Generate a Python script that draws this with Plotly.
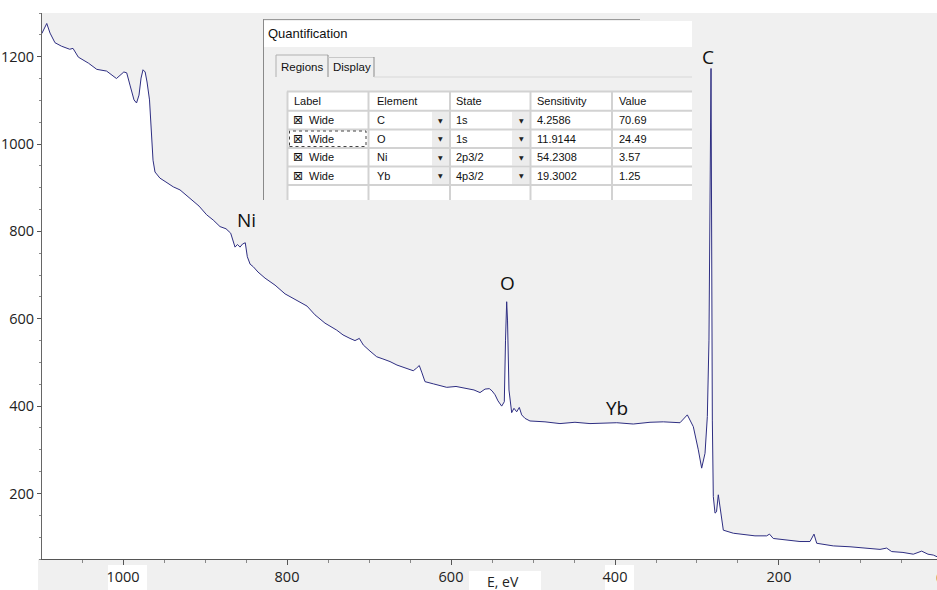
import plotly.graph_objects as go

# ---------------- data ----------------
energy = [1099, 1093, 1089, 1083, 1075, 1065, 1061, 1054.5, 1042, 1032, 1020, 1008, 999, 995.5,
          991.5, 986.6, 983.5, 980.5, 978, 975.6, 973, 970.7, 967.7, 965.2, 963.4, 961, 955, 947.6,
          938.7, 930.5, 916.2, 907.3, 898, 890, 881.7, 874.4, 868.7, 865.9, 863.4, 860.4, 857.3,
          854.3, 850.9, 848.4, 845, 841.1, 835.4, 826.8, 814.6, 802.4, 784.1, 775.6, 765.9, 753.7,
          739.4, 731.7, 723.2, 717.1, 711.8, 707, 698.8, 690.6, 683, 674.4, 665.9, 658.2, 646, 642,
          638.7, 635.4, 631.7, 621.6, 605.2, 593.9, 580.9, 572, 564.6, 558.5, 553.3, 550, 546.3,
          542.7, 538.2, 535, 533.5, 532.1, 531.1, 529.3, 526, 523.2, 519.9, 516.7, 513.8, 509.8,
          503.7, 485.4, 467.1, 448.8, 430.5, 418.3, 397.9, 377.7, 357.3, 341.1, 320.7, 311.8, 304.5,
          298.4, 294.3, 290.2, 287.4, 285.4, 284.1, 282.9, 281.3, 280.1, 278, 276.2, 274, 271.1,
          267.9, 255.7, 239.4, 229.3, 215, 211.6, 207, 190.6, 174.4, 162.2, 157.3, 154, 133.8, 113.4,
          93, 76.8, 68.7, 62.6, 48.8, 36.2, 26, 18.3, 11.8, 7]
counts = [1253, 1276, 1254, 1232, 1224, 1217, 1219, 1199, 1185, 1171, 1167, 1150, 1165, 1163,
          1135, 1101, 1094, 1112, 1151, 1170, 1165, 1142, 1101, 1032, 963, 936, 922, 913,
          902, 895, 872, 858, 838, 826, 811, 806, 796, 780, 764, 770, 764,
          771, 774, 742, 725, 719, 707, 693, 677, 657, 639, 629, 609, 590,
          574, 563, 555, 550, 555, 540, 526, 513, 508, 502, 494, 489, 481, 487,
          493, 476, 456, 451, 443, 445, 441, 437, 431, 439, 440, 435, 426,
          412, 400, 410, 551, 639, 597, 437, 385, 395, 387, 397, 380, 372,
          366, 364, 360, 363, 360, 361, 362, 359, 363, 364, 362, 380, 353,
          300, 258, 292, 376, 551, 872, 1173, 368, 193, 155, 158, 197, 155,
          116, 109, 105, 103, 103, 107, 97, 94, 90, 90, 107, 86, 80, 78,
          75, 72, 75, 67, 65, 61, 68, 61, 59, 55]

x_ticks = [1000, 800, 600, 400, 200]
y_ticks = [200, 400, 600, 800, 1000, 1200]

peak_names = ["Ni", "O", "Yb", "C"]
peak_energy = [850, 530.5, 398, 286.6]
peak_counts = [826, 682, 396, 1199]

# quantification table
tbl_header = ["Label", "Element", "State", "Sensitivity", "Value"]
tbl_label = ["Wide", "Wide", "Wide", "Wide"]
tbl_element = ["C", "O", "Ni", "Yb"]
tbl_state = ["1s", "1s", "2p3/2", "4p3/2"]
tbl_sensitivity = ["4.2586", "11.9144", "54.2308", "19.3002"]
tbl_value = ["70.69", "24.49", "3.57", "1.25"]

# ---------------- figure ----------------
W, H = 937, 590
L, R, T, B = 42, 0, 13, 31
PW, PH = W - L - R, H - T - B


def X(p):
    return (p - L) / PW


def Y(p):
    return (H - B - p) / PH


LINE = "#2e2e82"
fig = go.Figure()
fig.add_trace(go.Scatter(x=energy, y=counts, mode="lines",
                         line=dict(color=LINE, width=1),
                         fill="tozeroy", fillcolor="white", hoverinfo="skip"))

tickfont = dict(family="Open Sans", size=14.5, color="#222")
fig.update_xaxes(range=[1098.8, 7.3], tickmode="array", tickvals=x_ticks,
                 ticks="outside", ticklen=5, tickcolor="#555", showline=True,
                 linecolor="#555", linewidth=1, showgrid=False, zeroline=False,
                 tickfont=tickfont,
                 minor=dict(tickmode="linear", tick0=0, dtick=50, ticks="outside",
                            ticklen=3, tickcolor="#888", showgrid=False))
fig.update_yaxes(range=[50, 1300], tickmode="array", tickvals=y_ticks,
                 ticks="outside", ticklen=4, tickcolor="#555", showline=True,
                 linecolor="#666", linewidth=1, showgrid=False, zeroline=False,
                 tickfont=tickfont,
                 minor=dict(tickmode="linear", tick0=0, dtick=50, ticks="outside",
                            ticklen=2, tickcolor="#888", showgrid=False))

shapes = []
# grey strip below the x axis and white label boxes
shapes.append(dict(type="rect", xref="paper", yref="paper", x0=X(38), x1=X(937),
                   y0=Y(590), y1=Y(559), fillcolor="#f0f0f0", line=dict(width=0), layer="below"))
for a, b, top in [(108, 147, 565), (605, 634, 565), (469, 541, 571)]:
    shapes.append(dict(type="rect", xref="paper", yref="paper", x0=X(a), x1=X(b),
                       y0=Y(590), y1=Y(top), fillcolor="white", line=dict(width=0), layer="below"))


def rect(x0, y0, x1, y1, fill, lw=0, lc="#000", dash=None):
    ln = dict(width=lw, color=lc)
    if dash:
        ln["dash"] = dash
    shapes.append(dict(type="rect", xref="paper", yref="paper", x0=X(x0), x1=X(x1),
                       y0=Y(y1), y1=Y(y0), fillcolor=fill, line=ln, layer="above"))


def seg(x0, y0, x1, y1, color, w=1):
    shapes.append(dict(type="line", xref="paper", yref="paper", x0=X(x0), x1=X(x1),
                       y0=Y(y0), y1=Y(y1), line=dict(color=color, width=w), layer="above"))


# panel
rect(264, 47, 692, 200, "#f0f0f0")
rect(264, 21, 692, 47, "white")
seg(263, 19.5, 640, 19.5, "#9a9a9a")
seg(263.5, 19, 263.5, 200, "#8a8a8a")
# tabs
seg(276, 77, 276, 55, "#b0b0b0")
seg(276, 55, 328, 55, "#b0b0b0")
seg(328, 55, 328, 77, "#8a8a8a")
seg(328, 57.5, 374, 57.5, "#c8c8c8")
seg(374, 57, 374, 77, "#8a8a8a")
seg(374, 77, 692, 77, "#d8d8d8")
# table
col_edges = [287.5, 368.5, 450, 530.5, 612]
row_edges = [91.5, 110.8, 129.5, 148, 166.5, 185]
rect(287, 91.5, 692, 200, "white")
for r in range(4):
    t0, t1 = row_edges[r + 1], row_edges[r + 2]
    rect(432, t0 + 1, 449, t1 - 1, "#ececec")
    rect(512, t0 + 1, 530, t1 - 1, "#ececec")
for cx in col_edges:
    seg(cx, 91.5, cx, 200, "#d2d2d2", 2)
for ry in row_edges:
    seg(287, ry, 692, ry, "#d2d2d2", 2)
rect(289.5, 131, 366, 146.5, "rgba(0,0,0,0)", 1, "#444", "dot")

anns = []


def txt(x, y, s, size=11, family="Arial", color="#111", anchor="left"):
    anns.append(dict(xref="paper", yref="paper", x=X(x), y=Y(y), text=s, showarrow=False,
                     xanchor=anchor, yanchor="middle",
                     font=dict(family=family, size=size, color=color)))


txt(266, 34, "Quantification", 13)
txt(279, 67, "Regions", 11.5)
txt(331, 67, "Display", 11.5)
col_x = [292, 375, 454, 535, 617]
for cx, h in zip(col_x, tbl_header):
    txt(cx, 101, h)
row_y = [120.2, 138.8, 157.3, 175.8]
for i, ry in enumerate(row_y):
    txt(291, ry, "⊠", 12, "DejaVu Sans")
    txt(307, ry, tbl_label[i])
    txt(375, ry, tbl_element[i])
    txt(454, ry, tbl_state[i])
    txt(535, ry, tbl_sensitivity[i])
    txt(617, ry, tbl_value[i])
    txt(440.5, ry, "▼", 6, "DejaVu Sans", "#222", "center")
    txt(521, ry, "▼", 6, "DejaVu Sans", "#222", "center")

# axis title and partial "0"
txt(503, 581, "E, eV", 14, "Open Sans", "#222", "center")
txt(939.5, 577, "0", 14.5, "Open Sans", "#222", "center")

# peak labels
for n, e, c in zip(peak_names, peak_energy, peak_counts):
    anns.append(dict(xref="x", yref="y", x=e, y=c, text=n, showarrow=False,
                     xanchor="center", yanchor="middle",
                     font=dict(family="Open Sans", size=19, color="#111")))

fig.update_layout(width=W, height=H, margin=dict(l=L, r=R, t=T, b=B, autoexpand=False),
                  paper_bgcolor="white", plot_bgcolor="#f0f0f0", showlegend=False,
                  shapes=shapes, annotations=anns)

fig.write_html("out.html", config={"displayModeBar": False},
               post_script="document.body.style.margin='0';"
                           "document.body.style.padding='0';"
                           "document.documentElement.style.overflow='hidden';")
